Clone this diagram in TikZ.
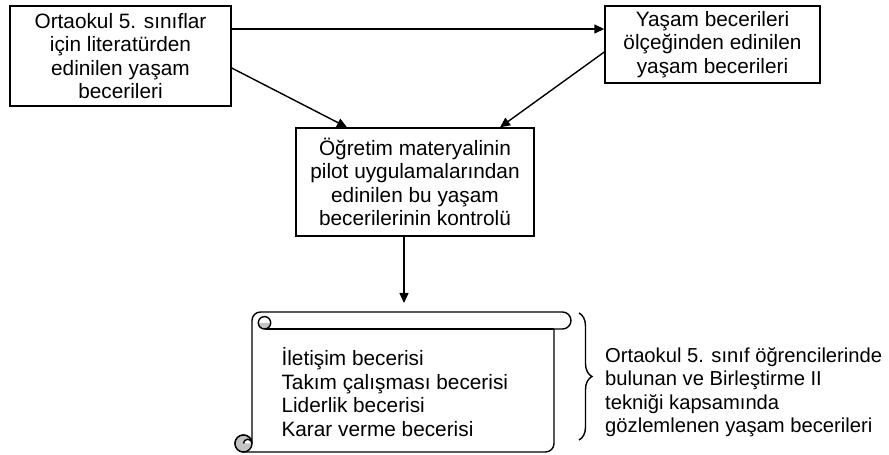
\documentclass[tikz,border=0pt]{standalone}
\usepackage{fontspec}
\setmainfont{Liberation Sans}
\usepackage{tikz}
\usetikzlibrary{arrows.meta,decorations.pathreplacing}
\definecolor{rollgray}{RGB}{195,195,195}

\tikzset{
  stepbox/.style={draw,line width=1.4pt,align=center,inner sep=0pt,
    font=\fontsize{20.8}{23.5}\selectfont},
  flow/.style={line width=1.4pt,-{Triangle[length=10pt,width=9pt]}},
  plain/.style={align=left,anchor=west,font=\fontsize{20.8}{23.5}\selectfont}
}

\begin{document}
\begin{tikzpicture}[x=1pt,y=1pt]
    \useasboundingbox (0,0) rectangle (889,455);
    % the three steps
    \node[stepbox,minimum width=221pt,minimum height=100pt] (lit) at (120.5,399)
      {Ortaokul 5. sınıflar\\için literatürden\\edinilen yaşam\\becerileri};
    \node[stepbox,minimum width=215pt,minimum height=77pt] (scale) at (712.5,410.5)
      {Yaşam becerileri\\ölçeğinden edinilen\\yaşam becerileri};
    \node[stepbox,minimum width=238pt,minimum height=108pt] (ctrl) at (415,273)
      {Öğretim materyalinin\\pilot uygulamalarından\\edinilen bu yaşam\\becerilerinin kontrolü};
    \draw[flow] (lit.east |- 0,426) -- (scale.west |- 0,426);
    \draw[flow] ([yshift=-12pt]lit.east) -- ([xshift=-68pt]ctrl.north);
    \draw[flow] ([yshift=-7.5pt]scale.west) -- ([xshift=85pt]ctrl.north);
    \coordinate (rolltop) at (404,152);
    \draw[flow] (ctrl.south -| rolltop) -- (rolltop);
    % scroll
    \draw[line width=1.4pt,fill=white] (252,134.5) arc[start angle=180,end angle=90,radius=8.5]
      -- (562.5,143) arc[start angle=90,end angle=-90,radius=8.5] -- (554,126) -- (554,11.5)
      arc[start angle=0,end angle=-90,radius=8.5] -- (243.5,3)
      arc[start angle=-90,end angle=-360,radius=8.5] -- cycle;
    \draw[line width=1.4pt] (554,126) -- (264.5,126);
    \fill[rollgray] (258.3,132.2) arc[start angle=180,end angle=360,radius=6.2] -- cycle;
    \draw[line width=1.4pt] (264.5,132.2) circle[radius=6.2];
    \filldraw[line width=1.4pt,fill=rollgray] (243.5,11.5) circle[radius=8.5];
    \draw[line width=1.4pt,fill=white] (243.5,11.5) arc[start angle=180,end angle=0,radius=4.25];
    \node[plain] (skills) at (278,63)
      {İletişim becerisi\\Takım çalışması becerisi\\Liderlik becerisi\\Karar verme becerisi};
    % brace and its note
    \draw[line width=1.4pt,decorate,decoration={brace,amplitude=13pt}] (579,142) -- (579,15);
    \node[plain,font=\fontsize{20.2}{23.5}\selectfont,inner sep=0pt] (note) at (605,63)
      {Ortaokul 5. sınıf öğrencilerinde\\bulunan ve Birleştirme II\\tekniği kapsamında\\gözlemlenen yaşam becerileri};
\end{tikzpicture}
\end{document}
